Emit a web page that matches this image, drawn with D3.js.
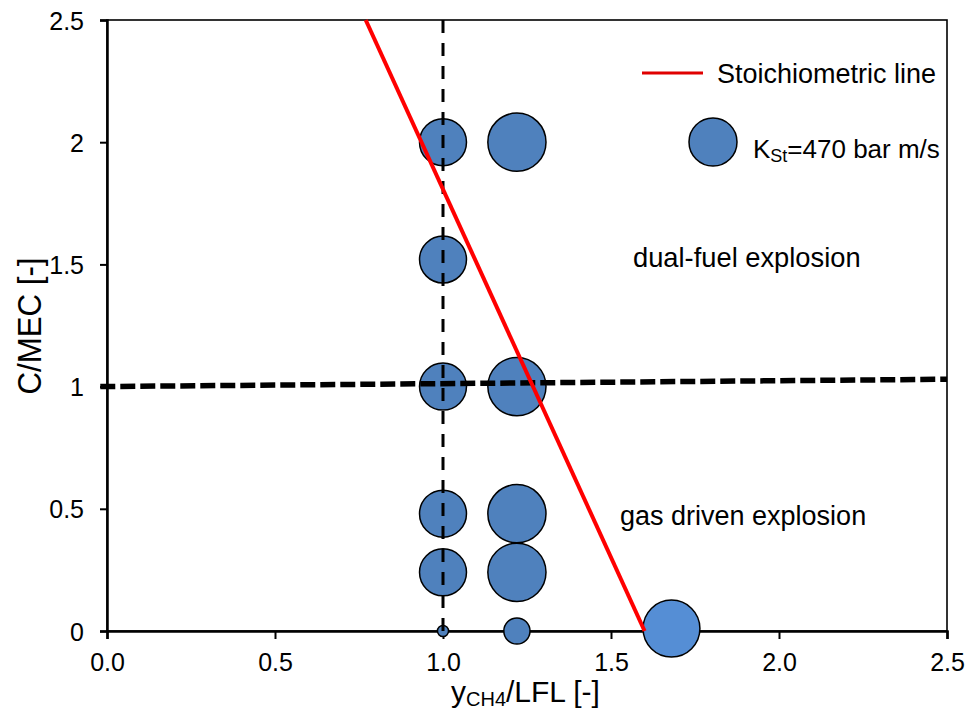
<html>
<script src="https://cdn.jsdelivr.net/npm/d3@7"></script>
<style>
body { margin:0; background:#fff; }
text { font-family: "Liberation Sans", Arial, sans-serif; fill:#000; }
</style>
<body>
<svg width=973 height=713></svg>
</body>
<script>

// bubbles: y_CH4/LFL, C/MEC, K_St (bar m/s)
var ratioCH4 = [1.0, 1.22, 1.0, 1.0, 1.22, 1.0, 1.22, 1.0, 1.22, 1.0, 1.22, 1.68];
var ratioDust = [2.0, 2.0, 1.52, 1.0, 1.0, 0.48, 0.48, 0.24, 0.24, 0, 0, 0.01];
var kst = [450, 690, 450, 450, 690, 450, 690, 450, 690, 25, 140, 660];

var stoichX = [0.77, 1.6];
var stoichY = [2.5, 0];
var borderX = [-0.02, 2.5];
var borderY = [1.0, 1.03];
var lflX = [1.0, 1.0];
var lflY = [0, 2.5];

var xTicks = [0, 0.5, 1.0, 1.5, 2.0, 2.5];
var yTicks = [0, 0.5, 1, 1.5, 2, 2.5];
var legendKst = 470;

var svg = d3.select("svg");
var x = d3.scaleLinear().domain([0, 2.5]).range([107, 947]);
var y = d3.scaleLinear().domain([0, 2.5]).range([631, 20]);
var r = d3.scaleSqrt().domain([0, 470]).range([0, 24]);

// frame
svg.append("rect").attr("x", x(0)).attr("y", y(2.5))
  .attr("width", x(2.5) - x(0)).attr("height", y(0) - y(2.5))
  .attr("fill", "none").attr("stroke", "#000").attr("stroke-width", 1.6);

// axes
var xAxis = d3.axisBottom(x).tickValues(xTicks).tickSize(8).tickFormat(d3.format(".1f"));
var gx = svg.append("g").attr("transform", "translate(0," + y(0) + ")").call(xAxis);
gx.select(".domain").attr("stroke-width", 2.5);
gx.selectAll(".tick line").attr("stroke-width", 2);
gx.selectAll("text").attr("font-size", 25).attr("y", 22).attr("dy", "0.71em")
  .style("font-family", "Liberation Sans, Arial, sans-serif");

var yAxis = d3.axisLeft(y).tickValues(yTicks).tickSize(7).tickFormat(function(d) { return d; });
var gy = svg.append("g").attr("transform", "translate(" + x(0) + ",0)").call(yAxis);
gy.select(".domain").attr("stroke-width", 2.5);
gy.selectAll(".tick line").attr("stroke-width", 2);
gy.selectAll("text").attr("font-size", 25).attr("x", -23).attr("dy", "0.36em")
  .style("font-family", "Liberation Sans, Arial, sans-serif");

// bubbles
svg.append("g").selectAll("circle").data(kst).enter().append("circle")
  .attr("cx", function(d, i) { return x(ratioCH4[i]); })
  .attr("cy", function(d, i) { return y(ratioDust[i]); })
  .attr("r", function(d) { return r(d); })
  .attr("fill", function(d, i) { return i === kst.length - 1 ? "#558ed5" : "#4f81bd"; })
  .attr("stroke", "#000").attr("stroke-width", 1.5);

var line = d3.line().x(function(d) { return x(d[0]); }).y(function(d) { return y(d[1]); });

// LFL dashed line
svg.append("path").datum(d3.zip(lflX, lflY)).attr("d", line)
  .attr("fill", "none").attr("stroke", "#000").attr("stroke-width", 3)
  .attr("stroke-dasharray", "13,10");

// dust / gas border
svg.append("path").datum(d3.zip(borderX, borderY)).attr("d", line)
  .attr("fill", "none").attr("stroke", "#000").attr("stroke-width", 5.5)
  .attr("stroke-dasharray", "15,5");

// stoichiometric line
svg.append("path").datum(d3.zip(stoichX, stoichY)).attr("d", line)
  .attr("fill", "none").attr("stroke", "#ff0000").attr("stroke-width", 4);

// legend
svg.append("line").attr("x1", 642).attr("x2", 703).attr("y1", 73).attr("y2", 73)
  .attr("stroke", "#e00000").attr("stroke-width", 3);
svg.append("text").attr("x", 717).attr("y", 83).attr("font-size", 27).text("Stoichiometric line");
svg.append("circle").attr("cx", 713).attr("cy", 142).attr("r", r(legendKst))
  .attr("fill", "#4f81bd").attr("stroke", "#000").attr("stroke-width", 1.5);
var kt = svg.append("text").attr("x", 753).attr("y", 158).attr("font-size", 26);
kt.append("tspan").text("K");
kt.append("tspan").attr("font-size", 18).attr("dy", 4).text("St");
kt.append("tspan").attr("dy", -4).text("=" + legendKst + " bar m/s");

// region labels
svg.append("text").attr("x", 633).attr("y", 267).attr("font-size", 27.3).text("dual-fuel explosion");
svg.append("text").attr("x", 620).attr("y", 525).attr("font-size", 27).text("gas driven explosion");

// axis titles
var xt = svg.append("text").attr("x", 451).attr("y", 702).attr("font-size", 30);
xt.append("tspan").text("y");
xt.append("tspan").attr("font-size", 20).attr("dy", 4).text("CH4");
xt.append("tspan").attr("dy", -4).text("/LFL [-]");

svg.append("text").attr("transform", "translate(41,326) rotate(-90)")
  .attr("text-anchor", "middle").attr("font-size", 33)
  .attr("textLength", 137).attr("lengthAdjust", "spacingAndGlyphs")
  .text("C/MEC [-]");

</script>
</html>
